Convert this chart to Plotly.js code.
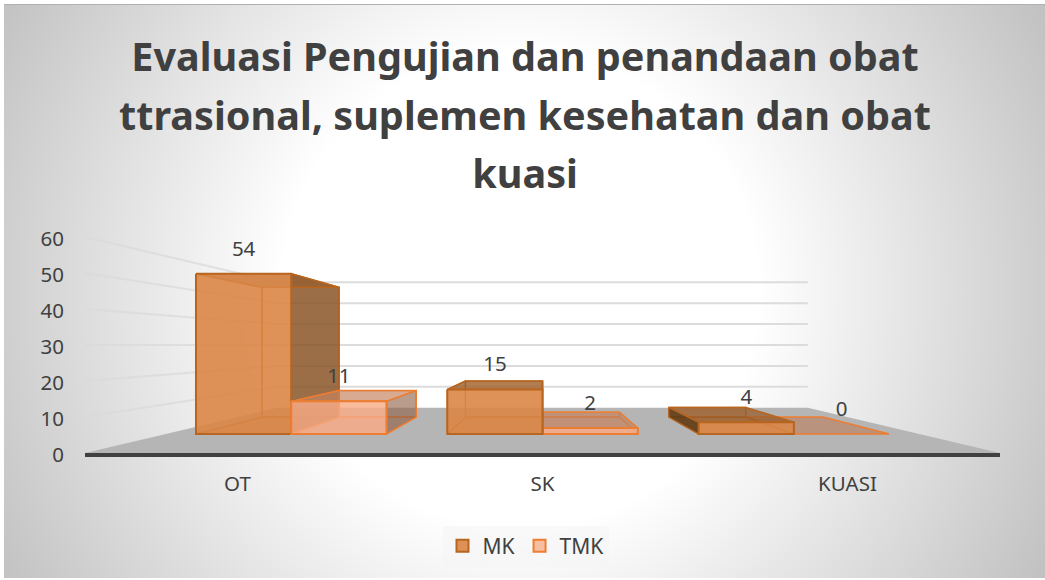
<!DOCTYPE html>
<html><head><meta charset="utf-8">
<script src="https://cdn.plot.ly/plotly-3.0.1.min.js"></script>
<style>
html,body{margin:0;padding:0;background:#fff;}
#wrap{position:absolute;left:4px;top:4px;width:1041px;height:574px;border-top:1px solid #b0b0b0;box-sizing:border-box;
background:radial-gradient(circle 592px at 516px 285px, #ffffff 0%, #ffffff 40%, #c2c2c2 100%);}
#chart{position:absolute;left:0;top:0;width:1045px;height:580px;}
</style></head><body>
<div id="wrap"></div><div id="chart"></div>
<script>
const categories=['OT','SK','KUASI'];
const seriesNames=['MK','TMK'];
const MK=[54,15,4];
const TMK=[11,2,0];
const yTicks=[0,10,20,30,40,50,60];
const titleLines=['Evaluasi Pengujian dan penandaan obat','ttrasional, suplemen kesehatan dan obat','kuasi'];

// perspective: depth scale s (1 = front of floor), vanishing at value 30, category centre 1
const sFloorBack=0.58, sBarFront=0.824, sBarBack=0.667;
const px=(c,s)=>1+(c-1)*s;
const py=(v,s)=>30*(1-s)+v*s;
const barW=0.379, gapLead=0.1212, labelLift=6.5;

const mkStyle={line:'#B8651F',front:'rgba(219,135,72,0.85)',back:'rgba(219,135,72,0.40)',side:'rgba(125,78,35,0.75)',top:'rgba(150,90,38,0.70)',bottom:'rgba(205,120,55,0.50)',left:'rgba(90,55,20,0.85)'};
const tkStyle={line:'#ED7D31',front:'rgba(248,172,135,0.78)',back:'rgba(248,172,135,0.20)',side:'rgba(130,90,65,0.55)',top:'rgba(190,125,90,0.60)',bottom:'rgba(235,150,110,0.25)',left:'rgba(130,90,65,0.5)'};

const traces=[];
function poly(pts,fill,line,lw){
  traces.push({type:'scatter',mode:'lines',x:pts.map(p=>p[0]),y:pts.map(p=>p[1]),fill:'toself',fillcolor:fill,
    line:{color:line,width:lw===undefined?1.5:lw},hoverinfo:'skip',showlegend:false});
}
function seg(pts,color,w){
  traces.push({type:'scatter',mode:'lines',x:pts.map(p=>p[0]),y:pts.map(p=>p[1]),line:{color:color,width:w},hoverinfo:'skip',showlegend:false});
}
// floor
const xL=-0.5,xR=2.5;
poly([[px(xL,1),py(0,1)],[px(xR,1),py(0,1)],[px(xR,sFloorBack),py(0,sFloorBack)],[px(xL,sFloorBack),py(0,sFloorBack)],[px(xL,1),py(0,1)]],'#b5b5b5','rgba(0,0,0,0)',0);
// wall gridlines
yTicks.slice(1).forEach(v=>{
  seg([[px(xL,1),py(v,1)],[px(xL,sFloorBack),py(v,sFloorBack)]],'rgba(217,217,217,0.75)',2);
  seg([[px(xL,sFloorBack),py(v,sFloorBack)],[px(xR,sFloorBack),py(v,sFloorBack)]],'#dcdcdc',2);
});
// bars
function bar(c0,c1,v,st){
  const P=(c,val,s)=>[px(c,s),py(val,s)];
  const F=sBarFront,B=sBarBack;
  const q=(a)=>a.concat([a[0]]);
  if(v>0){
    poly(q([P(c0,v,B),P(c1,v,B),P(c1,0,B),P(c0,0,B)]),st.back,st.line,1.2);
    poly(q([P(c0,0,F),P(c1,0,F),P(c1,0,B),P(c0,0,B)]),st.bottom,st.line,1.2);
    poly(q([P(c0,v,F),P(c0,v,B),P(c0,0,B),P(c0,0,F)]),c0>1?st.left:st.back,st.line,1.2);
    if(c1<1.01) poly(q([P(c1,v,F),P(c1,v,B),P(c1,0,B),P(c1,0,F)]),st.side,st.line,1.5);
  }
  poly(q([P(c0,v,F),P(c1,v,F),P(c1,v,B),P(c0,v,B)]),st.top,st.line,1.5);
  if(v>0) poly(q([P(c0,v,F),P(c1,v,F),P(c1,0,F),P(c0,0,F)]),st.front,st.line,2);
}
categories.forEach((c,i)=>{
  const a=i-0.5+gapLead;
  const drawMK=()=>bar(a,a+barW,MK[i],mkStyle);
  const drawTK=()=>bar(a+barW,a+2*barW,TMK[i],tkStyle);
  if(i===0){drawMK();drawTK();}else{drawTK();drawMK();}
});
// data labels
const lx=[],ly=[],lt=[];
categories.forEach((c,i)=>{
  const a=i-0.5+gapLead;
  [[MK[i],a+barW/2],[TMK[i],a+1.5*barW]].forEach(([v,cx])=>{
    lx.push(px(cx,sBarFront)); ly.push(py(v,sBarFront)+labelLift); lt.push(String(v));
  });
});
traces.push({type:'scatter',mode:'text',x:lx,y:ly,text:lt,textposition:'middle center',textfont:{family:'Noto Sans',size:20.5,color:'#404040'},hoverinfo:'skip',showlegend:false,cliponaxis:false});
// legend entries
seriesNames.forEach((n,i)=>{
  const st=i?{f:'#F7BFA0',l:'#ED7D31'}:{f:'#DD9156',l:'#B8651F'};
  traces.push({type:'bar',name:n,x:[0],y:[null],marker:{color:st.f,line:{color:st.l,width:2}},hoverinfo:'skip',showlegend:true});
});

const layout={
  width:1045,height:580,margin:{l:0,r:0,t:0,b:0},paper_bgcolor:'rgba(0,0,0,0)',plot_bgcolor:'rgba(0,0,0,0)',
  showlegend:true,
  title:{text:titleLines.map(t=>'<span style="font-size:39.6px">'+t+'</span>').join('<br>'),x:525/1045,xanchor:'center',y:0.877,yanchor:'top',font:{family:'Noto Sans',size:45,color:'#404040',weight:700}},
  xaxis:{type:'linear',domain:[85/1045,1000/1045],range:[-0.5,2.5],tickvals:[0,1,2],ticktext:categories,ticks:'',ticklen:0,showgrid:false,zeroline:false,
    showline:true,linecolor:'#404040',linewidth:4,anchor:'y',ticklabelstandoff:9,tickfont:{family:'Noto Sans',size:20.5,color:'#404040'}},
  yaxis:{domain:[(580-453)/580,(580-237)/580],range:[0,60],tickvals:yTicks,ticks:'',showgrid:false,zeroline:false,showline:false,anchor:'x',
    ticklabelstandoff:20,ticklabelshift:2,tickfont:{family:'Noto Sans',size:20.5,color:'#404040'}},
  legend:{orientation:'h',x:525.5/1045,xanchor:'center',y:(580-546)/580,yanchor:'middle',bgcolor:'rgba(245,245,245,0.6)',font:{family:'Noto Sans',size:21,color:'#404040'},traceorder:'normal'},
  hovermode:false
};
Plotly.newPlot('chart',traces,layout,{displayModeBar:false,responsive:false});
</script></body></html>
